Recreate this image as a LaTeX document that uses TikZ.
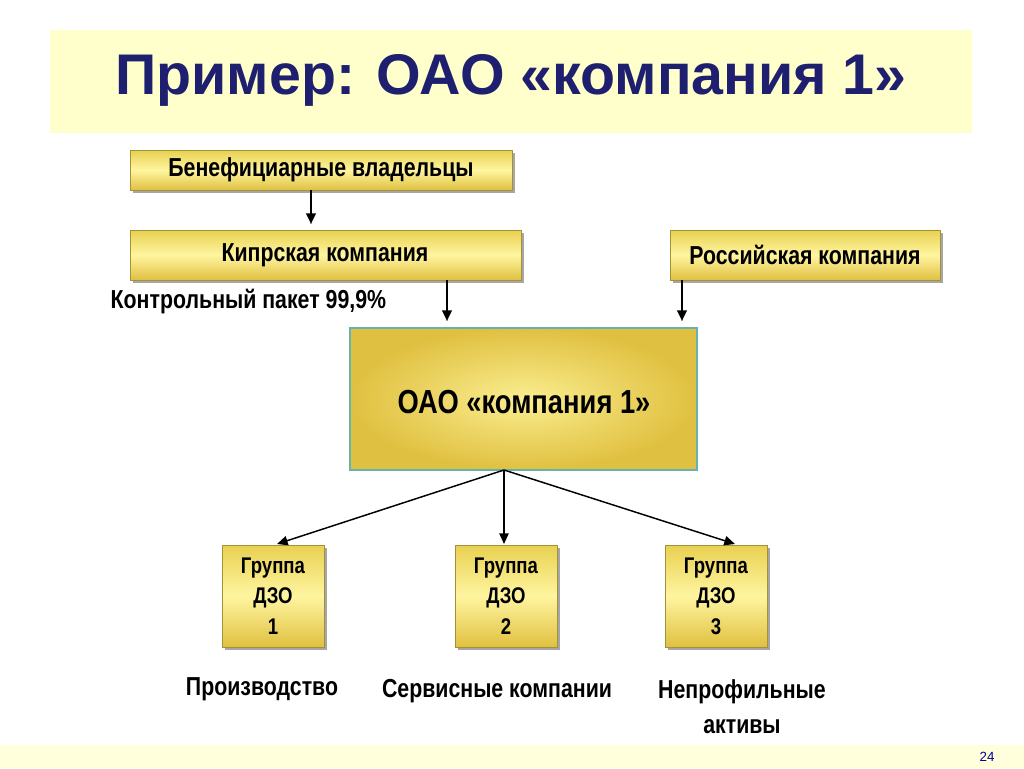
\documentclass[tikz,border=0pt]{standalone}
\usepackage{fontspec}
\setmainfont{Liberation Sans}
\newfontfamily\narrowf[FakeStretch=0.82]{Liberation Sans}
\usetikzlibrary{arrows.meta,shadows}
\definecolor{bandc}{HTML}{FFFFCC}
\definecolor{navy}{HTML}{1F1F70}
\definecolor{ytop}{HTML}{E8D050}
\definecolor{ymid}{HTML}{FFF5A0}
\definecolor{ybot}{HTML}{E0C040}
\tikzset{
 ybox/.style={draw=ytop!70!black, line width=0.4pt, top color=ytop, bottom color=ybot, middle color=ymid, shading angle=0,
   drop shadow={shadow xshift=2.5pt, shadow yshift=-2.5pt, fill=gray!70, opacity=1}},
 lbl/.style={font=\narrowf\bfseries\fontsize{19.5}{22}\selectfont},
 arr/.style={-{Triangle[length=8pt,width=7pt]}, line width=2pt},
 arr2/.style={-{Triangle[length=8pt,width=7pt]}, line width=1.1pt}
}
\begin{document}
\begin{tikzpicture}[x=0.75pt,y=-0.75pt]
\useasboundingbox (0,0) rectangle (1024,768);
\fill[white] (0,0) rectangle (1024,768);
\fill[bandc] (50,30) rectangle (972,133);
\node[font=\bfseries\fontsize{43}{48}\selectfont, text=navy] (title) at (511,80) {Пример: ОАО «компания 1»};
\fill[bandc!70!white] (0,745) rectangle (1024,768);
\node[font=\fontsize{10}{12}\selectfont, text=blue!60!black] (pg) at (987,757) {24};

\path[ybox] (130,150) rectangle (512,190);
\node[lbl] (ben) at (321,170) {Бенефициарные владельцы};
\path[ybox] (130,230) rectangle (521,280);
\node[lbl] (kip) at (325,255) {Кипрская компания};
\path[ybox] (670,230) rectangle (940,280);
\node[lbl] (ros) at (805,255) {Российская компания};
\node[lbl, anchor=west] (kp) at (106,302) {Контрольный пакет 99,9\%};

\path[draw=teal!60, line width=0.8pt, inner color=ymid!80!ytop, outer color=ybot] (350,328) rectangle (697,470);
\node[lbl, font=\narrowf\bfseries\fontsize{25}{28}\selectfont] (main) at (524,402) {ОАО «компания 1»};

\coordinate (b1) at (311,190); \coordinate (e1) at (311,224);
\coordinate (b2) at (447,280); \coordinate (e2) at (447,321);
\coordinate (b3) at (682,280); \coordinate (e3) at (682,321);
\draw[gray!60, line width=2pt, shift={(2,2)}] (b1)--(e1) (b2)--(e2) (b3)--(e3);
\draw[arr] (b1)--(e1);
\draw[arr] (b2)--(e2);
\draw[arr] (b3)--(e3);

\foreach \n/\x/\k in {g1/273/1,g2/506/2,g3/716/3}{
  \path[ybox] (\x-51,545) rectangle (\x+51,647);
  \node[font=\narrowf\bfseries\fontsize{17}{23}\selectfont, align=center] (\n) at (\x,596) {Группа\\ДЗО\\\k};
}
\coordinate (src) at (504,470);
\draw[arr2] (src) -- (277,544);
\draw[arr2] (src) -- (504,544);
\draw[arr2] (src) -- (735,544);

\node[lbl] (p1) at (262,689) {Производство};
\node[lbl] (p2) at (497,691) {Сервисные компании};
\node[lbl, align=center, font=\narrowf\bfseries\fontsize{19.5}{26}\selectfont] (p3) at (742,707) {Непрофильные\\активы};
\end{tikzpicture}
\end{document}
